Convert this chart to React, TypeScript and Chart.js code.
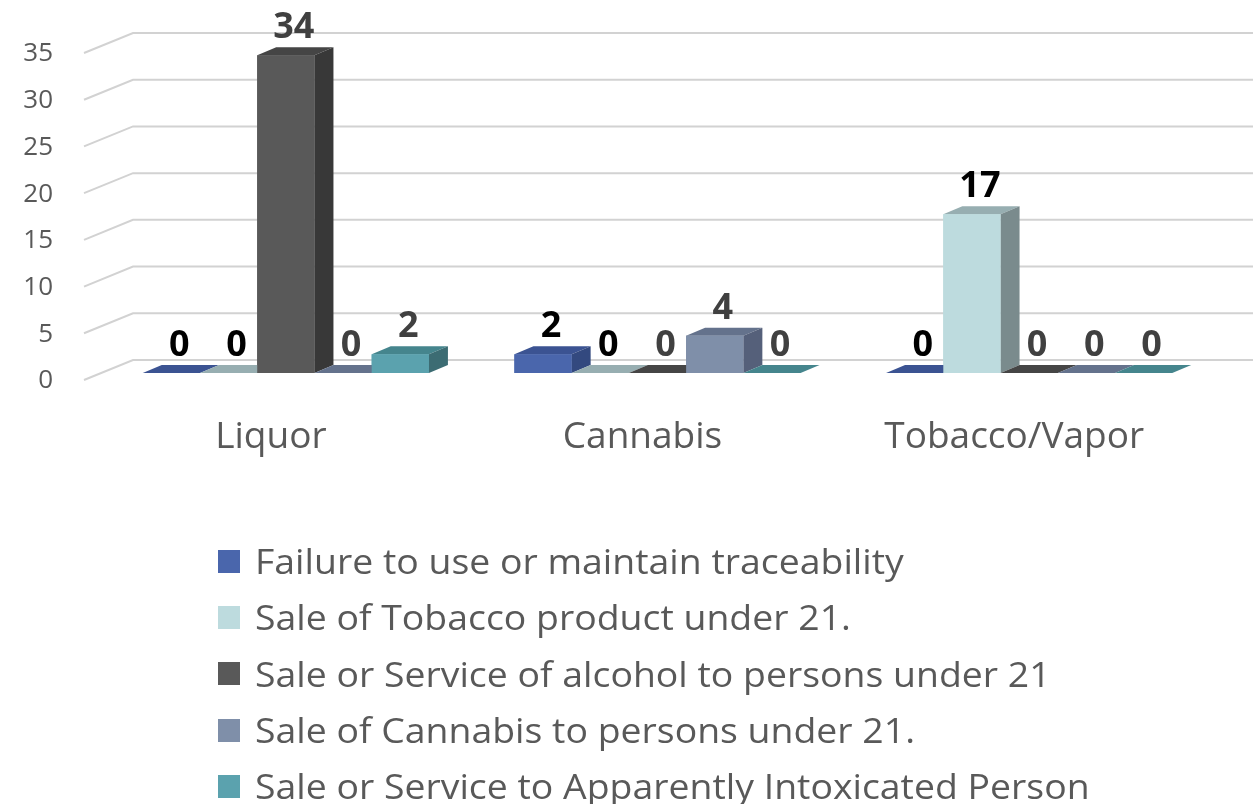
import React, { useEffect, useRef } from "react";
import { Chart, registerables } from "chart.js";

Chart.register(...registerables);

// ---- data ----
const categories = ["Liquor", "Cannabis", "Tobacco/Vapor"];
const seriesNames = [
  "Failure to use or maintain traceability",
  "Sale of Tobacco product under 21.",
  "Sale or Service of alcohol to persons under 21",
  "Sale of Cannabis to persons under 21.",
  "Sale or Service to Apparently Intoxicated Person",
];
const failureTraceability = [0, 2, 0];
const tobaccoUnder21 = [0, 0, 17];
const alcoholUnder21 = [34, 0, 0];
const cannabisUnder21 = [0, 4, 0];
const intoxicatedPerson = [2, 0, 0];
const yTickValues = [0, 5, 10, 15, 20, 25, 30, 35];

// ---- styles ----
const frontColors = ["#4A66AC", "#BDDBDE", "#595959", "#7F8FA9", "#5BA2AE"];
const topColors = ["#3B5392", "#97AEB1", "#454545", "#64728C", "#45858D"];
const sideColors = ["#33497F", "#7A8B8D", "#383838", "#55607A", "#3C6C73"];
const labelColors = ["#000000", "#000000", "#404040", "#404040", "#404040"];
const FONT = "'Open Sans', 'Noto Sans', sans-serif";
const DX = 19;
const DY = -8;

const seriesValues = [
  failureTraceability,
  tobaccoUnder21,
  alcoholUnder21,
  cannabisUnder21,
  intoxicatedPerson,
];

const bars3dPlugin = {
  id: "bars3d",
  beforeDatasetsDraw(chart: any) {
    const ctx = chart.ctx;
    const y = chart.scales.y;
    const left = chart.chartArea.left;
    ctx.save();
    ctx.strokeStyle = "#D2D2D2";
    ctx.lineWidth = 2;
    for (const v of yTickValues) {
      const py = y.getPixelForValue(v);
      ctx.beginPath();
      ctx.moveTo(left - 16, py + 7);
      ctx.lineTo(left + 33, py - 13);
      ctx.lineTo(chart.width, py - 13);
      ctx.stroke();
    }
    ctx.restore();
  },
  afterDatasetsDraw(chart: any) {
    const ctx = chart.ctx;
    const nCat = chart.data.labels.length;
    const nDs = chart.data.datasets.length;
    ctx.save();
    for (let c = 0; c < nCat; c++) {
      for (let d = 0; d < nDs; d++) {
        const bar = chart.getDatasetMeta(d).data[c];
        const { x, y, base, width } = bar.getProps(["x", "y", "base", "width"], true);
        const x0 = x - width / 2;
        const x1 = x + width / 2;
        // top
        ctx.fillStyle = topColors[d];
        ctx.beginPath();
        ctx.moveTo(x0, y);
        ctx.lineTo(x0 + DX, y + DY);
        ctx.lineTo(x1 + DX, y + DY);
        ctx.lineTo(x1, y);
        ctx.closePath();
        ctx.fill();
        if (base - y > 0.5) {
          // side
          ctx.fillStyle = sideColors[d];
          ctx.beginPath();
          ctx.moveTo(x1, y);
          ctx.lineTo(x1 + DX, y + DY);
          ctx.lineTo(x1 + DX, base + DY);
          ctx.lineTo(x1, base);
          ctx.closePath();
          ctx.fill();
          // front
          ctx.fillStyle = frontColors[d];
          ctx.fillRect(x0, y, width, base - y);
        }
      }
    }
    // value labels
    ctx.font = `bold 36px ${FONT}`;
    ctx.textAlign = "center";
    ctx.textBaseline = "alphabetic";
    for (let d = 0; d < nDs; d++) {
      const meta = chart.getDatasetMeta(d);
      meta.data.forEach((bar: any, i: number) => {
        const { x, y } = bar.getProps(["x", "y"], true);
        ctx.fillStyle = labelColors[d];
        ctx.fillText(String(chart.data.datasets[d].data[i]), x + 8, y - 17);
      });
    }
    ctx.restore();
  },
};

export default function App() {
  const canvasRef = useRef<HTMLCanvasElement | null>(null);

  useEffect(() => {
    if (!canvasRef.current) return;
    const chart = new Chart(canvasRef.current, {
      type: "bar",
      data: {
        labels: categories,
        datasets: seriesNames.map((name, i) => ({
          label: name,
          data: seriesValues[i],
          backgroundColor: frontColors[i],
          borderWidth: 0,
          categoryPercentage: 0.77,
          barPercentage: 1,
        })),
      },
      options: {
        responsive: false,
        animation: false,
        layout: { padding: { top: 46, right: 38, left: 0, bottom: 0 } },
        plugins: {
          legend: { display: false },
          tooltip: { enabled: false },
        },
        scales: {
          x: {
            grid: { display: false, drawTicks: false, tickLength: 0 },
            border: { display: false },
            ticks: {
              font: { family: FONT, size: 37 },
              color: "#595959",
              labelOffset: -15,
              padding: 42,
              maxRotation: 0,
            },
            afterFit: (s: any) => {
              s.height = 431;
              s.paddingLeft = 0;
              s.paddingRight = 0;
            },
          },
          y: {
            min: 0,
            max: 35,
            grid: { display: false, drawTicks: false, tickLength: 0 },
            border: { display: false },
            ticks: {
              stepSize: 5,
              font: { family: FONT, size: 26 },
              color: "#595959",
              padding: 47,
              labelOffset: 8,
            },
            afterFit: (s: any) => {
              s.width = 100;
              s.paddingTop = 0;
              s.paddingBottom = 0;
            },
          },
        },
      },
      plugins: [bars3dPlugin],
    } as any);
    return () => chart.destroy();
  }, []);

  return (
    <div
      style={{
        position: "absolute",
        left: 0,
        top: 0,
        width: 1253,
        height: 804,
        overflow: "hidden",
        background: "#ffffff",
      }}
    >
      <canvas ref={canvasRef} width={1253} height={804} style={{ display: "block" }} />
      <div style={{ position: "absolute", left: 218, top: 533 }}>
        {seriesNames.map((name, i) => (
          <div
            key={name}
            style={{
              display: "flex",
              alignItems: "center",
              height: 56.3,
              fontFamily: FONT,
              fontSize: 34,
              color: "#595959",
              whiteSpace: "nowrap",
            }}
          >
            <span
              style={{
                display: "inline-block",
                width: 22,
                height: 23,
                background: frontColors[i],
                marginRight: 15,
                flex: "0 0 auto",
              }}
            />
            <span style={{ display: "inline-block", transform: "scaleX(1.1)", transformOrigin: "left center" }}>
              {name}
            </span>
          </div>
        ))}
      </div>
    </div>
  );
}
